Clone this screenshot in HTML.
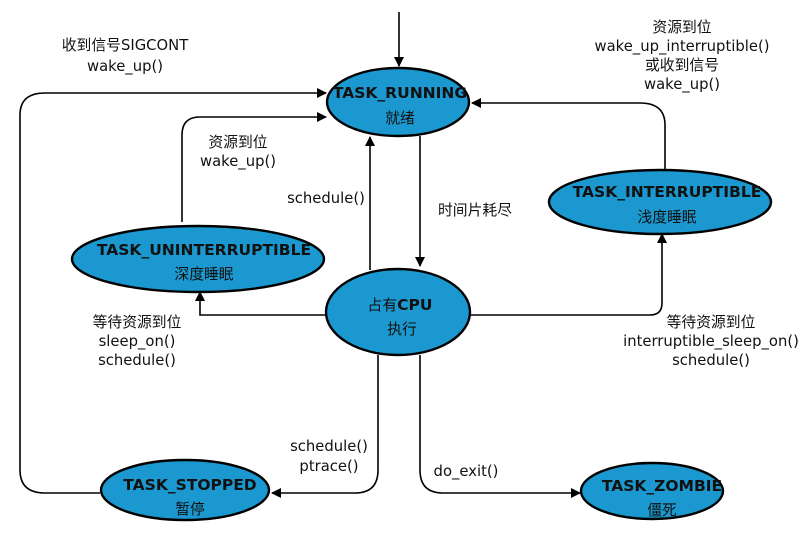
<!DOCTYPE html>
<html><head><meta charset="utf-8"><style>
body{margin:0;background:#fff}
svg{display:block}
text{font-family:"DejaVu Sans","Liberation Sans","Noto Sans CJK SC",sans-serif;font-size:14.8px;fill:#111}
.b{font-weight:bold;font-size:15.5px}
</style></head><body>
<svg width="803" height="538" viewBox="0 0 803 538" xmlns="http://www.w3.org/2000/svg">
<defs><marker id="a" markerWidth="10" markerHeight="10" refX="9" refY="5" orient="auto" markerUnits="userSpaceOnUse"><path d="M0,0 L10,5 L0,10 z" fill="#000"/></marker></defs>
<g fill="none" stroke="#000" stroke-width="1.6">
<path d="M399,12 L399,66" marker-end="url(#a)"/>
<path d="M100,493 L45,493 Q20,493 20,470 L20,115 Q20,93 45,93 L326,93" marker-end="url(#a)"/>
<path d="M182,222 L182,135 Q182,117 200,117 L326,117" marker-end="url(#a)"/>
<path d="M370,270 L370,137" marker-end="url(#a)"/>
<path d="M420,136 L420,266" marker-end="url(#a)"/>
<path d="M665,170 L665,125 Q665,103 640,103 L472,103" marker-end="url(#a)"/>
<path d="M470,315 L650,315 Q662,315 662,303 L662,234" marker-end="url(#a)"/>
<path d="M326,315 L200,315 L200,292" marker-end="url(#a)"/>
<path d="M378,355 L378,470 Q378,493 355,493 L272,493" marker-end="url(#a)"/>
<path d="M420,355 L420,470 Q420,493 443,493 L580,493" marker-end="url(#a)"/>
</g>
<g fill="#1a98cf" stroke="#000" stroke-width="2.4">
<ellipse cx="398" cy="102" rx="71" ry="34"/>
<ellipse cx="660" cy="202" rx="111" ry="32"/>
<ellipse cx="198" cy="259" rx="126" ry="33"/>
<ellipse cx="398" cy="312" rx="72" ry="43"/>
<ellipse cx="185" cy="490" rx="84" ry="30"/>
<ellipse cx="652" cy="491" rx="71" ry="28"/>
</g>
<text class="b" x="400" y="98" text-anchor="middle">TASK_RUNNING</text>
<text x="400" y="123" text-anchor="middle">就绪</text>
<text class="b" x="667" y="197" text-anchor="middle">TASK_INTERRUPTIBLE</text>
<text x="667" y="222" text-anchor="middle">浅度睡眠</text>
<text class="b" x="204" y="255" text-anchor="middle">TASK_UNINTERRUPTIBLE</text>
<text x="204" y="279" text-anchor="middle">深度睡眠</text>
<text x="400" y="310" text-anchor="middle">占有<tspan class="b">CPU</tspan></text>
<text x="402" y="334" text-anchor="middle">执行</text>
<text class="b" x="190" y="490" text-anchor="middle">TASK_STOPPED</text>
<text x="190" y="514" text-anchor="middle">暂停</text>
<text class="b" x="662" y="491" text-anchor="middle">TASK_ZOMBIE</text>
<text x="662" y="515" text-anchor="middle">僵死</text>
<text x="125" y="50" text-anchor="middle">收到信号SIGCONT</text>
<text x="125" y="71" text-anchor="middle">wake_up()</text>
<text x="682" y="32" text-anchor="middle">资源到位</text>
<text x="682" y="51" text-anchor="middle">wake_up_interruptible()</text>
<text x="682" y="70" text-anchor="middle">或收到信号</text>
<text x="682" y="89" text-anchor="middle">wake_up()</text>
<text x="238" y="147" text-anchor="middle">资源到位</text>
<text x="238" y="166" text-anchor="middle">wake_up()</text>
<text x="326" y="203" text-anchor="middle">schedule()</text>
<text x="475" y="215" text-anchor="middle">时间片耗尽</text>
<text x="137" y="327" text-anchor="middle">等待资源到位</text>
<text x="137" y="346" text-anchor="middle">sleep_on()</text>
<text x="137" y="365" text-anchor="middle">schedule()</text>
<text x="711" y="327" text-anchor="middle">等待资源到位</text>
<text x="711" y="346" text-anchor="middle">interruptible_sleep_on()</text>
<text x="711" y="365" text-anchor="middle">schedule()</text>
<text x="329" y="451" text-anchor="middle">schedule()</text>
<text x="329" y="471" text-anchor="middle">ptrace()</text>
<text x="466" y="476" text-anchor="middle">do_exit()</text>
</svg>
</body></html>
